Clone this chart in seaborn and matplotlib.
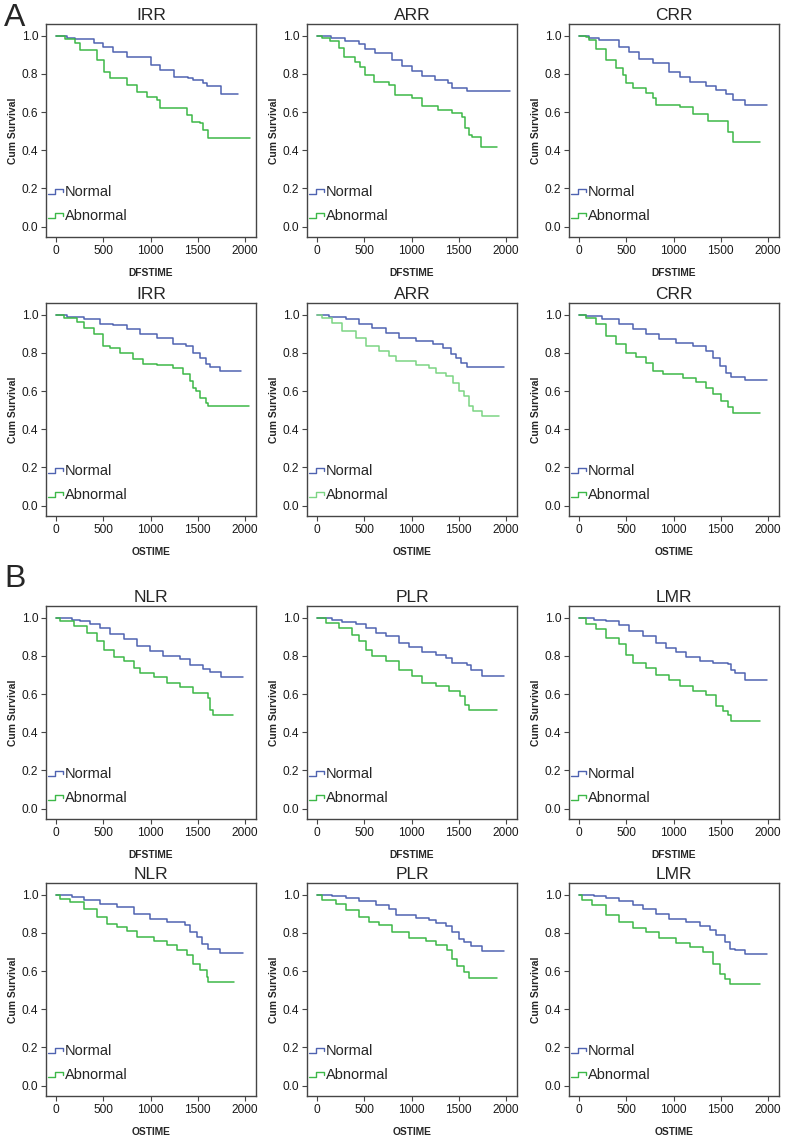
import pandas as pd
import matplotlib.pyplot as plt
import seaborn as sns
from matplotlib.lines import Line2D
from matplotlib.legend_handler import HandlerBase

# Kaplan-Meier curves (time in days, cumulative survival)
# A: IRR / ARR / CRR, DFS
irr_dfs_norm_t = [0, 120, 200, 400, 500, 600, 750, 1000, 1100, 1250, 1400, 1450, 1550, 1600, 1750, 1930]
irr_dfs_norm_s = [1.0, 0.99, 0.98, 0.96, 0.94, 0.916, 0.89, 0.846, 0.82, 0.785, 0.777, 0.77, 0.75, 0.736, 0.695, 0.695]
irr_dfs_abn_t = [0, 100, 200, 257, 433, 503, 574, 750, 856, 961, 1067, 1102, 1278, 1384, 1437, 1525, 1560, 1606, 2050]
irr_dfs_abn_s = [1.0, 0.98, 0.96, 0.925, 0.873, 0.81, 0.777, 0.742, 0.707, 0.677, 0.663, 0.62, 0.62, 0.585, 0.55, 0.545, 0.506, 0.466, 0.466]

arr_dfs_norm_t = [0, 150, 300, 440, 510, 616, 792, 898, 1003, 1109, 1250, 1391, 1426, 1585, 2040]
arr_dfs_norm_s = [1.0, 0.99, 0.97, 0.955, 0.93, 0.91, 0.87, 0.84, 0.817, 0.79, 0.77, 0.75, 0.728, 0.712, 0.712]
arr_dfs_abn_t = [0, 53, 141, 229, 282, 405, 458, 510, 599, 757, 827, 1003, 1109, 1285, 1426, 1532, 1567, 1609, 1637, 1736, 1901]
arr_dfs_abn_s = [1.0, 0.986, 0.97, 0.935, 0.89, 0.864, 0.838, 0.794, 0.76, 0.742, 0.69, 0.672, 0.632, 0.61, 0.593, 0.576, 0.515, 0.48, 0.471, 0.419, 0.419]

crr_dfs_norm_t = [0, 106, 213, 426, 532, 638, 780, 957, 1064, 1170, 1348, 1454, 1560, 1631, 1755, 1985]
crr_dfs_norm_s = [1.0, 0.99, 0.977, 0.942, 0.916, 0.88, 0.855, 0.81, 0.782, 0.76, 0.736, 0.716, 0.695, 0.663, 0.637, 0.637]
crr_dfs_abn_t = [0, 71, 106, 177, 284, 390, 461, 496, 567, 709, 780, 816, 1064, 1206, 1365, 1578, 1631, 1915]
crr_dfs_abn_s = [1.0, 0.995, 0.977, 0.928, 0.873, 0.829, 0.794, 0.75, 0.724, 0.698, 0.672, 0.637, 0.628, 0.59, 0.555, 0.497, 0.445, 0.445]

# A: IRR / ARR / CRR, OS
irr_os_norm_t = [0, 116, 292, 467, 608, 748, 889, 1064, 1240, 1380, 1450, 1520, 1591, 1633, 1731, 1960]
irr_os_norm_s = [1.0, 0.99, 0.976, 0.953, 0.946, 0.923, 0.897, 0.876, 0.848, 0.836, 0.801, 0.775, 0.743, 0.725, 0.705, 0.705]
irr_os_abn_t = [0, 81, 221, 292, 397, 502, 572, 678, 818, 924, 1064, 1240, 1345, 1415, 1450, 1485, 1520, 1591, 1608, 2045]
irr_os_abn_s = [1.0, 0.984, 0.963, 0.932, 0.897, 0.836, 0.827, 0.801, 0.766, 0.743, 0.736, 0.719, 0.687, 0.652, 0.617, 0.6, 0.565, 0.538, 0.52, 0.52]

arr_os_norm_t = [0, 127, 304, 445, 587, 728, 870, 1046, 1223, 1329, 1417, 1470, 1523, 1583, 1982]
arr_os_norm_s = [1.0, 0.99, 0.976, 0.95, 0.932, 0.906, 0.876, 0.862, 0.845, 0.827, 0.792, 0.774, 0.748, 0.727, 0.727]
arr_os_abn_t = [0, 57, 163, 269, 410, 516, 657, 763, 834, 1046, 1187, 1258, 1364, 1435, 1506, 1559, 1611, 1647, 1746, 1929]
arr_os_abn_s = [1.0, 0.98, 0.958, 0.914, 0.88, 0.836, 0.81, 0.783, 0.757, 0.736, 0.719, 0.696, 0.678, 0.643, 0.6, 0.573, 0.52, 0.498, 0.472, 0.472]

crr_os_norm_t = [0, 71, 248, 426, 567, 709, 851, 1028, 1206, 1348, 1418, 1489, 1560, 1613, 1755, 1986]
crr_os_norm_s = [1.0, 0.993, 0.976, 0.953, 0.923, 0.9, 0.871, 0.854, 0.836, 0.81, 0.775, 0.732, 0.697, 0.676, 0.66, 0.66]
crr_os_abn_t = [0, 71, 177, 284, 390, 496, 603, 709, 780, 887, 1099, 1241, 1348, 1418, 1507, 1578, 1631, 1915]
crr_os_abn_s = [1.0, 0.983, 0.953, 0.888, 0.845, 0.801, 0.779, 0.749, 0.706, 0.688, 0.671, 0.645, 0.618, 0.584, 0.549, 0.514, 0.484, 0.484]

# B: NLR / PLR / LMR, DFS
nlr_dfs_norm_t = [0, 169, 257, 363, 468, 574, 715, 856, 997, 1137, 1313, 1419, 1560, 1630, 1746, 1975]
nlr_dfs_norm_s = [1.0, 0.99, 0.982, 0.965, 0.947, 0.912, 0.886, 0.851, 0.828, 0.798, 0.781, 0.754, 0.733, 0.716, 0.688, 0.688]
nlr_dfs_abn_t = [0, 46, 187, 327, 433, 504, 609, 715, 821, 891, 1032, 1173, 1313, 1454, 1613, 1630, 1666, 1877]
nlr_dfs_abn_s = [1.0, 0.982, 0.956, 0.921, 0.877, 0.833, 0.793, 0.772, 0.737, 0.711, 0.688, 0.658, 0.635, 0.605, 0.579, 0.518, 0.488, 0.488]

plr_dfs_norm_t = [0, 162, 268, 409, 514, 620, 726, 867, 973, 1113, 1254, 1360, 1430, 1589, 1624, 1741, 1977]
plr_dfs_norm_s = [1.0, 0.99, 0.979, 0.965, 0.947, 0.921, 0.904, 0.868, 0.846, 0.821, 0.807, 0.789, 0.763, 0.751, 0.728, 0.693, 0.693]
plr_dfs_abn_t = [0, 92, 232, 373, 444, 514, 585, 726, 867, 1007, 1113, 1254, 1395, 1518, 1571, 1606, 1906]
plr_dfs_abn_s = [1.0, 0.974, 0.947, 0.909, 0.877, 0.833, 0.798, 0.772, 0.728, 0.693, 0.658, 0.64, 0.614, 0.588, 0.544, 0.518, 0.518]

lmr_dfs_norm_t = [0, 160, 284, 426, 532, 674, 816, 922, 1028, 1135, 1277, 1418, 1578, 1603, 1649, 1755, 1986]
lmr_dfs_norm_s = [1.0, 0.99, 0.982, 0.961, 0.93, 0.904, 0.868, 0.839, 0.821, 0.793, 0.775, 0.763, 0.758, 0.728, 0.711, 0.675, 0.675]
lmr_dfs_abn_t = [0, 71, 177, 284, 426, 496, 567, 709, 816, 957, 1064, 1206, 1348, 1454, 1525, 1578, 1603, 1915]
lmr_dfs_abn_s = [1.0, 0.965, 0.939, 0.895, 0.86, 0.807, 0.763, 0.737, 0.702, 0.675, 0.64, 0.614, 0.596, 0.535, 0.509, 0.488, 0.461, 0.461]

# B: NLR / PLR / LMR, OS
nlr_os_norm_t = [0, 169, 292, 468, 644, 820, 996, 1173, 1366, 1419, 1489, 1542, 1613, 1736, 1975]
nlr_os_norm_s = [1.0, 0.99, 0.97, 0.953, 0.935, 0.897, 0.874, 0.857, 0.839, 0.804, 0.778, 0.743, 0.717, 0.694, 0.694]
nlr_os_abn_t = [0, 46, 151, 292, 433, 539, 644, 750, 856, 1032, 1173, 1278, 1384, 1454, 1525, 1595, 1613, 1887]
nlr_os_abn_s = [1.0, 0.979, 0.962, 0.927, 0.883, 0.848, 0.831, 0.81, 0.778, 0.757, 0.734, 0.708, 0.682, 0.638, 0.603, 0.568, 0.545, 0.545]

plr_os_norm_t = [0, 162, 303, 444, 620, 761, 832, 1043, 1184, 1254, 1360, 1430, 1501, 1554, 1624, 1741, 1977]
plr_os_norm_s = [1.0, 0.995, 0.984, 0.967, 0.944, 0.927, 0.892, 0.879, 0.865, 0.851, 0.834, 0.804, 0.769, 0.752, 0.729, 0.703, 0.703]
plr_os_abn_t = [0, 56, 198, 303, 444, 550, 656, 797, 973, 1148, 1254, 1378, 1430, 1483, 1554, 1606, 1906]
plr_os_abn_s = [1.0, 0.97, 0.953, 0.918, 0.883, 0.857, 0.839, 0.804, 0.775, 0.757, 0.734, 0.708, 0.664, 0.624, 0.594, 0.565, 0.565]

lmr_os_norm_t = [0, 160, 284, 426, 567, 674, 816, 957, 1135, 1277, 1383, 1454, 1543, 1596, 1649, 1755, 1986]
lmr_os_norm_s = [1.0, 0.995, 0.984, 0.965, 0.944, 0.927, 0.897, 0.874, 0.857, 0.834, 0.816, 0.787, 0.752, 0.717, 0.708, 0.69, 0.69]
lmr_os_abn_t = [0, 35, 142, 284, 426, 567, 709, 851, 1028, 1170, 1312, 1418, 1489, 1543, 1596, 1915]
lmr_os_abn_s = [1.0, 0.97, 0.944, 0.892, 0.857, 0.827, 0.804, 0.775, 0.747, 0.726, 0.699, 0.638, 0.586, 0.559, 0.53, 0.53]

groups = ["Normal", "Abnormal"]
x_ticks = [0, 500, 1000, 1500, 2000]
y_ticks = [0.0, 0.2, 0.4, 0.6, 0.8, 1.0]

# row, col, title, x label, curves
panels = [
    (0, 0, "IRR", "DFSTIME", irr_dfs_norm_t, irr_dfs_norm_s, irr_dfs_abn_t, irr_dfs_abn_s),
    (0, 1, "ARR", "DFSTIME", arr_dfs_norm_t, arr_dfs_norm_s, arr_dfs_abn_t, arr_dfs_abn_s),
    (0, 2, "CRR", "DFSTIME", crr_dfs_norm_t, crr_dfs_norm_s, crr_dfs_abn_t, crr_dfs_abn_s),
    (1, 0, "IRR", "OSTIME", irr_os_norm_t, irr_os_norm_s, irr_os_abn_t, irr_os_abn_s),
    (1, 1, "ARR", "OSTIME", arr_os_norm_t, arr_os_norm_s, arr_os_abn_t, arr_os_abn_s),
    (1, 2, "CRR", "OSTIME", crr_os_norm_t, crr_os_norm_s, crr_os_abn_t, crr_os_abn_s),
    (2, 0, "NLR", "DFSTIME", nlr_dfs_norm_t, nlr_dfs_norm_s, nlr_dfs_abn_t, nlr_dfs_abn_s),
    (2, 1, "PLR", "DFSTIME", plr_dfs_norm_t, plr_dfs_norm_s, plr_dfs_abn_t, plr_dfs_abn_s),
    (2, 2, "LMR", "DFSTIME", lmr_dfs_norm_t, lmr_dfs_norm_s, lmr_dfs_abn_t, lmr_dfs_abn_s),
    (3, 0, "NLR", "OSTIME", nlr_os_norm_t, nlr_os_norm_s, nlr_os_abn_t, nlr_os_abn_s),
    (3, 1, "PLR", "OSTIME", plr_os_norm_t, plr_os_norm_s, plr_os_abn_t, plr_os_abn_s),
    (3, 2, "LMR", "OSTIME", lmr_os_norm_t, lmr_os_norm_s, lmr_os_abn_t, lmr_os_abn_s),
]

sns.set_style("white")
plt.rcParams["font.family"] = ["Liberation Sans", "DejaVu Sans"]

blue = "#4F63B1"
green = "#3DB848"
light_green = "#7CD584"
frame = "#454545"


# SPSS-like step glyph for the legend
class StepHandler(HandlerBase):
    def create_artists(self, legend, orig_handle, xdescent, ydescent, width, height, fontsize, trans):
        x0 = -xdescent
        y0 = -ydescent
        xs = [x0, x0 + width * 0.5, x0 + width * 0.5, x0 + width, x0 + width]
        ys = [y0 + height * 0.2, y0 + height * 0.2, y0 + height * 0.7, y0 + height * 0.7, y0 + height * 0.4]
        ln = Line2D(xs, ys, color=orig_handle.get_color(), lw=1.0, transform=trans)
        return [ln]


W, H = 786, 1139
fig = plt.figure(figsize=(W / 100, H / 100), dpi=100)
col_left = [46, 307, 569]
row_top = [24, 303, 606, 883]
ax_w, ax_h = 210, 213

for row, col, title, xlab, nt, ns, at, a_s in panels:
    ax = fig.add_axes([col_left[col] / W, 1 - (row_top[row] + ax_h) / H, ax_w / W, ax_h / H])
    df = pd.DataFrame({
        "time": nt + at,
        "surv": ns + a_s,
        "group": ["Normal"] * len(nt) + ["Abnormal"] * len(at),
    })
    abn_color = light_green if (row == 1 and col == 1) else green
    pal = {"Normal": blue, "Abnormal": abn_color}
    sns.lineplot(data=df, x="time", y="surv", hue="group", hue_order=groups,
                 palette=pal, estimator=None, drawstyle="steps-post",
                 linewidth=1.1, legend=False, ax=ax)

    ax.set_xlim(-106, 2116)
    ax.set_ylim(-0.054, 1.061)
    ax.set_xticks(x_ticks)
    ax.set_xticklabels([str(v) for v in x_ticks])
    ax.set_yticks(y_ticks)
    ax.set_yticklabels([f"{v:.1f}" for v in y_ticks])
    ax.tick_params(bottom=True, left=True, direction="out", length=3.5, width=0.8,
                   color=frame, labelsize=8.6, labelcolor="#1a1a1a", pad=2)
    for sp in ax.spines.values():
        sp.set_color(frame)
        sp.set_linewidth(1.0)

    ax.set_title(title, fontsize=12.5, pad=3)
    ax.set_xlabel(xlab, fontsize=7.4, fontweight="bold", labelpad=8)
    ax.set_ylabel("Cum Survival", fontsize=7.4, fontweight="bold", labelpad=3)

    handles = [Line2D([], [], color=blue), Line2D([], [], color=abn_color)]
    ax.legend(handles, groups, handler_map={Line2D: StepHandler()},
              loc="lower left", bbox_to_anchor=(0.01, 0.065), frameon=False,
              fontsize=10.5, handlelength=1.0, handletextpad=0.15,
              labelspacing=0.7, borderpad=0, borderaxespad=0)

fig.text(4 / W, 1 - 3 / H, "A", fontsize=23, va="top", ha="left")
fig.text(4 / W, 1 - 564 / H, "B", fontsize=23, va="top", ha="left")

fig.savefig("out.png", dpi=100)
